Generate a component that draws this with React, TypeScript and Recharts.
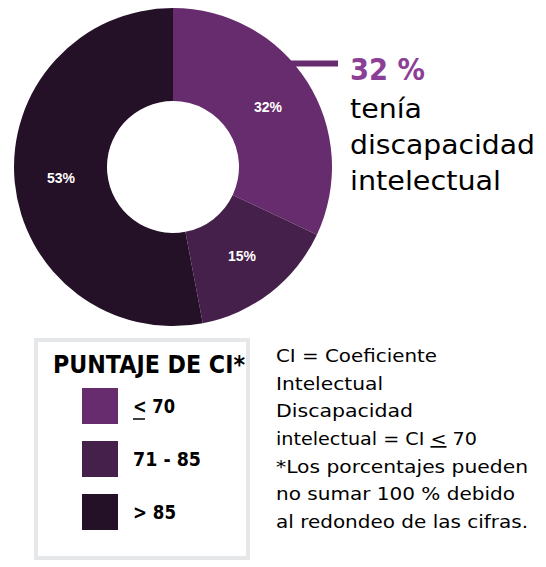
import React from 'react';
import { PieChart, Pie, Cell } from 'recharts';

const categories = ['≤ 70', '71 - 85', '> 85'];
const values = [32, 15, 53];
const sliceLabels = ['32%', '15%', '53%'];
const colors = ['#672C6E', '#45204A', '#241027'];
const legendTitle = 'PUNTAJE DE CI*';
const headlineValue = '32 %';
const headlineLines = ['tenía', 'discapacidad', 'intelectual'];
const headlineWidths = [72, 185, 151];
const noteLines = [
  'CI = Coeficiente',
  'Intelectual',
  'Discapacidad',
  'intelectual = CI ≤ 70',
  '*Los porcentajes pueden',
  'no sumar 100 % debido',
  'al redondeo de las cifras.',
];
const noteWidths = [161, 107, 137, 201, 252, 239, 252];
const legendWidths = [42, 68, 43];

const data = categories.map((c, i) => ({ name: c, value: values[i], label: sliceLabels[i] }));

const FONT = '"DejaVu Sans", sans-serif';
const RADIAN = Math.PI / 180;

function renderWithLe(text: string) {
  const idx = text.indexOf('≤');
  if (idx < 0) return text;
  const before = text.slice(0, idx);
  const after = text.slice(idx + 1);
  const parts: React.ReactNode[] = [];
  if (before) parts.push(<tspan key="b">{before}</tspan>);
  parts.push(
    <tspan key="u" style={{ textDecoration: 'underline' }}>
      {'<' + after}
    </tspan>
  );
  return parts;
}

const renderLabel = (props: any) => {
  const { cx, cy, midAngle, innerRadius, outerRadius, index } = props;
  const r = (innerRadius + outerRadius) / 2;
  const x = cx + r * Math.cos(-midAngle * RADIAN);
  const y = cy + r * Math.sin(-midAngle * RADIAN);
  return (
    <text
      x={x}
      y={y}
      fill="#ffffff"
      textAnchor="middle"
      dominantBaseline="central"
      style={{ fontFamily: '"Liberation Sans", Arial, sans-serif', fontWeight: 700, fontSize: 14 }}
    >
      {data[index].label}
    </text>
  );
};

export default function App() {
  return (
    <div style={{ position: 'absolute', left: 0, top: 0, width: 546, height: 567, background: '#fff' }}>
      <PieChart width={546} height={567} margin={{ top: 0, right: 0, bottom: 0, left: 0 }}>
        <Pie
          data={data}
          dataKey="value"
          cx={173}
          cy={167}
          innerRadius={66}
          outerRadius={159}
          startAngle={90}
          endAngle={-270}
          stroke="none"
          label={renderLabel}
          labelLine={false}
          isAnimationActive={false}
        >
          {data.map((d, i) => (
            <Cell key={d.name} fill={colors[i]} />
          ))}
        </Pie>
      </PieChart>
      <svg
        width={546}
        height={567}
        style={{ position: 'absolute', left: 0, top: 0, pointerEvents: 'none' }}
      >
        <line x1={288} x2={338} y1={63.5} y2={63.5} stroke={colors[0]} strokeWidth={6} />
        <text
          x={350}
          y={80}
          fill="#8B3F96"
          textLength={75}
          lengthAdjust="spacingAndGlyphs"
          style={{ fontFamily: FONT, fontWeight: 700, fontSize: 31 }}
        >
          {headlineValue}
        </text>
        {headlineLines.map((t, i) => (
          <text
            key={t}
            x={350}
            y={118 + i * 36}
            fill="#000"
            textLength={headlineWidths[i]}
            lengthAdjust="spacingAndGlyphs"
            style={{ fontFamily: FONT, fontSize: 26 }}
          >
            {t}
          </text>
        ))}

        <rect x={36} y={340} width={212} height={218} fill="none" stroke="#E6E7E9" strokeWidth={4} />
        <text
          x={53}
          y={373}
          fill="#000"
          textLength={192}
          lengthAdjust="spacingAndGlyphs"
          style={{ fontFamily: FONT, fontWeight: 700, fontSize: 24 }}
        >
          {legendTitle}
        </text>
        {categories.map((c, i) => (
          <g key={c}>
            <rect x={82} y={388 + i * 53} width={36} height={36} fill={colors[i]} />
            {c.startsWith('≤') ? (
              <>
                <text
                  x={133}
                  y={406 + i * 53}
                  dominantBaseline="central"
                  fill="#000"
                  textLength={legendWidths[i]}
                  lengthAdjust="spacingAndGlyphs"
                  style={{ fontFamily: FONT, fontWeight: 700, fontSize: 20 }}
                >
                  {'<' + c.slice(1)}
                </text>
                <line x1={133} x2={145} y1={419 + i * 53} y2={419 + i * 53} stroke="#000" strokeWidth={1.5} />
              </>
            ) : (
              <text
                x={133}
                y={406 + i * 53}
                dominantBaseline="central"
                fill="#000"
                textLength={legendWidths[i]}
                lengthAdjust="spacingAndGlyphs"
                style={{ fontFamily: FONT, fontWeight: 700, fontSize: 20 }}
              >
                {c}
              </text>
            )}
          </g>
        ))}

        {noteLines.map((t, i) => (
          <text
            key={t}
            x={276}
            y={362 + i * 27.67}
            fill="#000"
            textLength={noteWidths[i]}
            lengthAdjust="spacingAndGlyphs"
            style={{ fontFamily: FONT, fontSize: 17 }}
          >
            {t.includes('≤') ? (
              <>
                {t.slice(0, t.indexOf('≤'))}
                <tspan style={{ textDecoration: 'underline' }}>{'<'}</tspan>
                {t.slice(t.indexOf('≤') + 1)}
              </>
            ) : (
              t
            )}
          </text>
        ))}
      </svg>
    </div>
  );
}
